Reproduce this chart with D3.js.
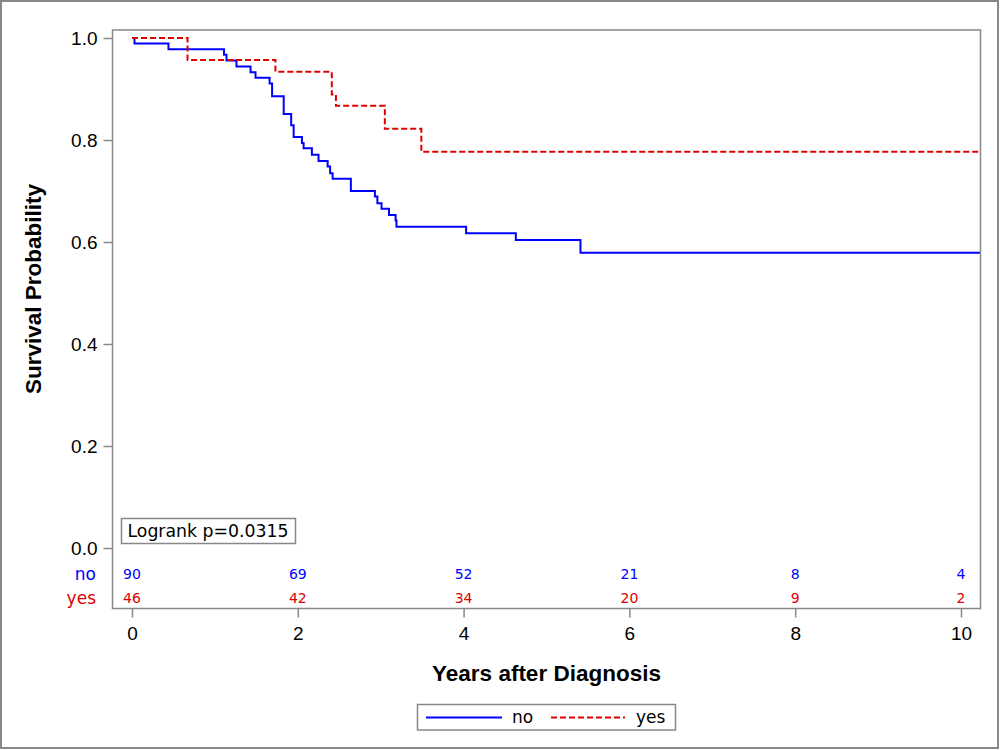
<!DOCTYPE html>
<html>
<head>
<meta charset="utf-8">
<script src="https://cdn.jsdelivr.net/npm/d3@7"></script>
<style>
  html, body { margin: 0; padding: 0; background: #fff; }
  svg { display: block; }
</style>
</head>
<body>
<svg id="chart" width="1000" height="750"></svg>
<script>
// ---- data ----
const groups = ["no", "yes"];
const noTimes = [0, 0.03, 0.44, 1.11, 1.14, 1.26, 1.43, 1.49, 1.66, 1.69, 1.83, 1.92, 1.95, 2.05, 2.07, 2.17, 2.25, 2.36, 2.39, 2.42, 2.64, 2.93, 2.96, 3.01, 3.10, 3.18, 3.19, 4.03, 4.63, 5.41, 10.3];
const noSurv  = [1.0, 0.989, 0.978, 0.967, 0.956, 0.944, 0.933, 0.922, 0.911, 0.886, 0.851, 0.829, 0.806, 0.794, 0.784, 0.771, 0.759, 0.748, 0.735, 0.724, 0.700, 0.689, 0.676, 0.665, 0.653, 0.642, 0.630, 0.617, 0.604, 0.579, 0.579];
const yesTimes = [0, 0.67, 1.73, 2.41, 2.46, 3.05, 3.49, 10.3];
const yesSurv  = [1.0, 0.957, 0.934, 0.889, 0.867, 0.822, 0.777, 0.777];
const xTicks = [0, 2, 4, 6, 8, 10];
const yTicks = [0, 0.2, 0.4, 0.6, 0.8, 1.0];
const riskNo  = [90, 69, 52, 21, 8, 4];
const riskYes = [46, 42, 34, 20, 9, 2];
const pText = "Logrank p=0.0315";

// ---- layout ----
const svg = d3.select("#chart");
const frame = {left: 112.5, top: 30, right: 980.5, bottom: 608.5};
const x = d3.scaleLinear().domain([0, 10]).range([132, 961]);
const y = d3.scaleLinear().domain([0, 1]).range([548, 38]);
const colors = {no: "#0000FF", yes: "#DD0000"};
const gray = "#888";
const tickFont = "Liberation Sans, Arial, sans-serif";
const bodyFont = "DejaVu Sans, Verdana, sans-serif";

// outer border
svg.append("rect").attr("x", 1).attr("y", 1).attr("width", 997).attr("height", 747)
  .attr("fill", "#fff").attr("stroke", gray).attr("stroke-width", 2);

// clip
svg.append("clipPath").attr("id", "clip").append("rect")
  .attr("x", frame.left).attr("y", frame.top)
  .attr("width", frame.right - frame.left).attr("height", frame.bottom - frame.top);

// curves
const line = d3.line().curve(d3.curveStepAfter).x(d => x(d[0])).y(d => y(d[1]));
const noData = noTimes.map((t, i) => [t, noSurv[i]]);
const yesData = yesTimes.map((t, i) => [t, yesSurv[i]]);
const curves = svg.append("g").attr("clip-path", "url(#clip)");
curves.append("path").datum(noData).attr("d", line)
  .attr("fill", "none").attr("stroke", colors.no).attr("stroke-width", 2);
curves.append("path").datum(yesData).attr("d", line)
  .attr("fill", "none").attr("stroke", colors.yes).attr("stroke-width", 2)
  .attr("stroke-dasharray", "6,3");

// frame
svg.append("rect").attr("x", frame.left).attr("y", frame.top)
  .attr("width", frame.right - frame.left).attr("height", frame.bottom - frame.top)
  .attr("fill", "none").attr("stroke", gray).attr("stroke-width", 1.5);

// y axis
const yAxis = d3.axisLeft(y).tickValues(yTicks).tickFormat(d3.format(".1f")).tickSize(9).tickPadding(6);
const yg = svg.append("g").attr("transform", `translate(${frame.left},0)`).call(yAxis);
yg.select(".domain").remove();
yg.selectAll(".tick line").attr("stroke", gray).attr("stroke-width", 1.5);
yg.selectAll(".tick text").attr("font-family", tickFont).attr("font-size", 19).attr("fill", "#000");

// x axis
const xAxis = d3.axisBottom(x).tickValues(xTicks).tickFormat(d3.format("d")).tickSize(9).tickPadding(9);
const xg = svg.append("g").attr("transform", `translate(0,${frame.bottom})`).call(xAxis);
xg.select(".domain").remove();
xg.selectAll(".tick line").attr("stroke", gray).attr("stroke-width", 1.5);
xg.selectAll(".tick text").attr("font-family", tickFont).attr("font-size", 19).attr("fill", "#000");

// axis titles
svg.append("text").attr("x", (frame.left + frame.right) / 2).attr("y", 681)
  .attr("text-anchor", "middle").attr("font-family", tickFont).attr("font-weight", "bold")
  .attr("font-size", 22.5).text("Years after Diagnosis");
svg.append("text").attr("transform", `translate(41,${y(0.5) - 4}) rotate(-90)`)
  .attr("text-anchor", "middle").attr("font-family", tickFont).attr("font-weight", "bold")
  .attr("font-size", 22.5).text("Survival Probability");

// risk table
const riskRows = [{g: "no", vals: riskNo, yy: 574}, {g: "yes", vals: riskYes, yy: 598}];
riskRows.forEach(r => {
  svg.append("text").attr("x", 96).attr("y", r.yy).attr("dy", "0.35em")
    .attr("text-anchor", "end").attr("font-family", bodyFont).attr("font-size", 17)
    .attr("fill", colors[r.g]).text(r.g);
  svg.append("g").selectAll("text").data(r.vals).join("text")
    .attr("x", (d, i) => x(xTicks[i])).attr("y", r.yy).attr("dy", "0.35em")
    .attr("text-anchor", "middle").attr("font-family", bodyFont).attr("font-size", 14)
    .attr("fill", colors[r.g]).text(d => d);
});

// logrank box
svg.append("rect").attr("x", 121.5).attr("y", 518.5).attr("width", 174).attr("height", 25)
  .attr("fill", "#fff").attr("stroke", gray).attr("stroke-width", 1.5);
svg.append("text").attr("x", 127.5).attr("y", 531).attr("dy", "0.35em")
  .attr("font-family", bodyFont).attr("font-size", 17.3).text(pText);

// legend
const lg = svg.append("g");
lg.append("rect").attr("x", 417.5).attr("y", 704.5).attr("width", 258).attr("height", 25.5)
  .attr("fill", "#fff").attr("stroke", gray).attr("stroke-width", 1.5);
const legendItems = [
  {g: "no", x1: 426, x2: 502, tx: 512, dash: null},
  {g: "yes", x1: 551, x2: 625, tx: 636, dash: "6,3"}
];
legendItems.forEach(it => {
  lg.append("line").attr("x1", it.x1).attr("x2", it.x2).attr("y1", 717.5).attr("y2", 717.5)
    .attr("stroke", colors[it.g]).attr("stroke-width", 2)
    .attr("stroke-dasharray", it.dash);
  lg.append("text").attr("x", it.tx).attr("y", 717.5).attr("dy", "0.35em")
    .attr("font-family", bodyFont).attr("font-size", 17).text(it.g);
});
</script>
</body>
</html>
